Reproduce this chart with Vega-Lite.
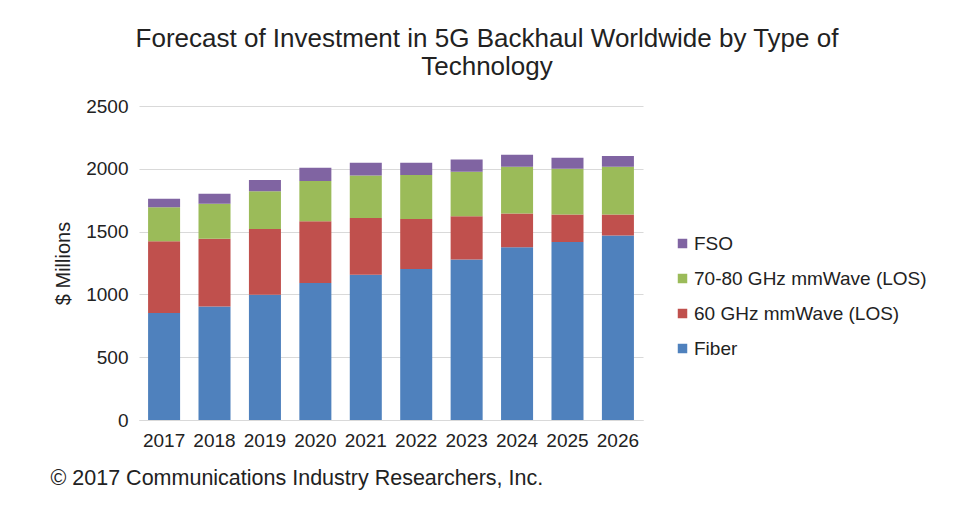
{
  "$schema": "https://vega.github.io/schema/vega-lite/v6.json",
  "autosize": "none",
  "width": 504,
  "height": 314,
  "padding": {"left": 139, "top": 106, "right": 310, "bottom": 91},
  "background": "white",
  "title": {
    "text": ["Forecast of Investment in 5G Backhaul Worldwide by Type of", "Technology"],
    "font": "Liberation Sans",
    "fontSize": 26,
    "fontWeight": "normal",
    "color": "#222222",
    "lineHeight": 28,
    "anchor": "middle",
    "dx": 96,
    "offset": 17
  },
  "data": {
    "values": [
      {"year": "2017", "tech": "Fiber", "rank": 1, "value": 851},
      {"year": "2017", "tech": "60 GHz mmWave (LOS)", "rank": 2, "value": 572},
      {"year": "2017", "tech": "70-80 GHz mmWave (LOS)", "rank": 3, "value": 271},
      {"year": "2017", "tech": "FSO", "rank": 4, "value": 67},
      {"year": "2018", "tech": "Fiber", "rank": 1, "value": 904},
      {"year": "2018", "tech": "60 GHz mmWave (LOS)", "rank": 2, "value": 540},
      {"year": "2018", "tech": "70-80 GHz mmWave (LOS)", "rank": 3, "value": 277},
      {"year": "2018", "tech": "FSO", "rank": 4, "value": 80},
      {"year": "2019", "tech": "Fiber", "rank": 1, "value": 997},
      {"year": "2019", "tech": "60 GHz mmWave (LOS)", "rank": 2, "value": 524},
      {"year": "2019", "tech": "70-80 GHz mmWave (LOS)", "rank": 3, "value": 301},
      {"year": "2019", "tech": "FSO", "rank": 4, "value": 88},
      {"year": "2020", "tech": "Fiber", "rank": 1, "value": 1090},
      {"year": "2020", "tech": "60 GHz mmWave (LOS)", "rank": 2, "value": 493},
      {"year": "2020", "tech": "70-80 GHz mmWave (LOS)", "rank": 3, "value": 319},
      {"year": "2020", "tech": "FSO", "rank": 4, "value": 106},
      {"year": "2021", "tech": "Fiber", "rank": 1, "value": 1157},
      {"year": "2021", "tech": "60 GHz mmWave (LOS)", "rank": 2, "value": 452},
      {"year": "2021", "tech": "70-80 GHz mmWave (LOS)", "rank": 3, "value": 338},
      {"year": "2021", "tech": "FSO", "rank": 4, "value": 101},
      {"year": "2022", "tech": "Fiber", "rank": 1, "value": 1202},
      {"year": "2022", "tech": "60 GHz mmWave (LOS)", "rank": 2, "value": 399},
      {"year": "2022", "tech": "70-80 GHz mmWave (LOS)", "rank": 3, "value": 349},
      {"year": "2022", "tech": "FSO", "rank": 4, "value": 98},
      {"year": "2023", "tech": "Fiber", "rank": 1, "value": 1277},
      {"year": "2023", "tech": "60 GHz mmWave (LOS)", "rank": 2, "value": 346},
      {"year": "2023", "tech": "70-80 GHz mmWave (LOS)", "rank": 3, "value": 353},
      {"year": "2023", "tech": "FSO", "rank": 4, "value": 99},
      {"year": "2024", "tech": "Fiber", "rank": 1, "value": 1375},
      {"year": "2024", "tech": "60 GHz mmWave (LOS)", "rank": 2, "value": 269},
      {"year": "2024", "tech": "70-80 GHz mmWave (LOS)", "rank": 3, "value": 372},
      {"year": "2024", "tech": "FSO", "rank": 4, "value": 96},
      {"year": "2025", "tech": "Fiber", "rank": 1, "value": 1418},
      {"year": "2025", "tech": "60 GHz mmWave (LOS)", "rank": 2, "value": 218},
      {"year": "2025", "tech": "70-80 GHz mmWave (LOS)", "rank": 3, "value": 364},
      {"year": "2025", "tech": "FSO", "rank": 4, "value": 88},
      {"year": "2026", "tech": "Fiber", "rank": 1, "value": 1468},
      {"year": "2026", "tech": "60 GHz mmWave (LOS)", "rank": 2, "value": 168},
      {"year": "2026", "tech": "70-80 GHz mmWave (LOS)", "rank": 3, "value": 380},
      {"year": "2026", "tech": "FSO", "rank": 4, "value": 85}
    ]
  },
  "mark": {"type": "bar"},
  "encoding": {
    "x": {
      "field": "year",
      "type": "ordinal",
      "scale": {"paddingInner": 0.365, "paddingOuter": 0.18},
      "axis": {
        "title": "© 2017 Communications Industry Researchers, Inc.",
        "titleFont": "Liberation Sans",
        "titleFontSize": 21.5,
        "titleFontWeight": "normal",
        "titleColor": "#222222",
        "titleAnchor": "start",
        "titleAlign": "left",
        "titleX": -89,
        "titleY": 58,
        "titleBaseline": "middle",
        "labelAngle": 0,
        "labelFont": "Liberation Sans",
        "labelFontSize": 19,
        "labelColor": "#222222",
        "labelPadding": 11,
        "ticks": false,
        "domainColor": "#d9d9d9",
        "domainWidth": 1
      }
    },
    "y": {
      "field": "value",
      "type": "quantitative",
      "stack": "zero",
      "scale": {"domain": [0, 2500], "nice": false},
      "axis": {
        "title": "$ Millions",
        "titleFont": "Liberation Sans",
        "titleFontSize": 20,
        "titleFontWeight": "normal",
        "titleColor": "#222222",
        "titleX": -76,
        "titleBaseline": "middle",
        "values": [0, 500, 1000, 1500, 2000, 2500],
        "format": "d",
        "labelFont": "Liberation Sans",
        "labelFontSize": 19,
        "labelColor": "#222222",
        "labelPadding": 11,
        "ticks": false,
        "domain": false,
        "gridColor": "#d9d9d9",
        "gridWidth": 1
      }
    },
    "order": {"field": "rank", "type": "quantitative"},
    "color": {
      "field": "tech",
      "type": "nominal",
      "scale": {
        "domain": ["Fiber", "60 GHz mmWave (LOS)", "70-80 GHz mmWave (LOS)", "FSO"],
        "range": ["#4F81BD", "#C0504D", "#9BBB59", "#8064A2"]
      },
      "legend": {
        "title": null,
        "values": ["FSO", "70-80 GHz mmWave (LOS)", "60 GHz mmWave (LOS)", "Fiber"],
        "orient": "none",
        "legendX": 534,
        "legendY": 128,
        "symbolType": "square",
        "symbolSize": 90,
        "symbolStrokeWidth": 0,
        "labelFont": "Liberation Sans",
        "labelFontSize": 19,
        "labelLimit": 400,
        "labelColor": "#222222",
        "labelOffset": 2,
        "rowPadding": 15
      }
    }
  },
  "config": {
    "view": {"stroke": null}
  }
}
